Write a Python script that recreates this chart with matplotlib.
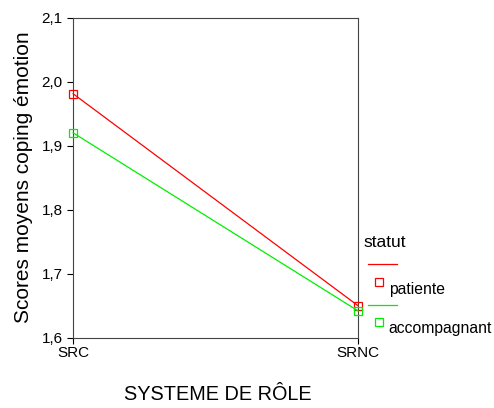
import matplotlib
matplotlib.use('Agg')
import matplotlib.pyplot as plt
from matplotlib.lines import Line2D
from matplotlib.ticker import FuncFormatter

plt.rcParams['font.family'] = ['Liberation Sans', 'DejaVu Sans']

# données
categories = ['SRC', 'SRNC']
patiente = [1.981, 1.650]
accompagnant = [1.920, 1.642]
yticks = [1.6, 1.7, 1.8, 1.9, 2.0, 2.1]

fig = plt.figure(figsize=(4.94, 4.08), dpi=100)
ax = fig.add_axes([0.148, 0.172, 0.577, 0.785])

x = range(len(categories))
ax.plot(x, patiente, color='#ff0000', lw=0.9, marker='s', ms=6,
        mfc='none', mec='#ff0000', mew=0.9, clip_on=False, zorder=3)
ax.plot(x, accompagnant, color='#00ee00', lw=0.9, marker='s', ms=6,
        mfc='none', mec='#00ee00', mew=0.9, clip_on=False, zorder=3)

ax.set_xlim(0, 1)
ax.set_ylim(1.6, 2.1)
ax.set_xticks(list(x))
ax.set_xticklabels(categories)
ax.set_yticks(yticks)
ax.yaxis.set_major_formatter(FuncFormatter(lambda v, p: ('%.1f' % v).replace('.', ',')))
ax.tick_params(labelsize=11, length=4, width=0.8, colors='black')
ax.tick_params(axis='x', pad=2)
for s in ax.spines.values():
    s.set_linewidth(0.8)
    s.set_color('#444444')

ax.set_ylabel('Scores moyens coping émotion', fontsize=15, labelpad=6)
fig.text(0.44, 0.01, 'SYSTEME DE RÔLE', fontsize=14.3, ha='center', va='bottom')

# légende à la manière SPSS
fig.text(0.735, 0.405, 'statut', fontsize=12.5, va='center')
fig.add_artist(Line2D([0.745, 0.803], [0.352, 0.352], color='#ff0000', lw=0.9))
fig.add_artist(Line2D([0.767], [0.308], marker='s', ms=6, mfc='none',
                      mec='#ff0000', mew=0.9, transform=fig.transFigure))
fig.text(0.787, 0.290, 'patiente', fontsize=11.3, va='center')
fig.add_artist(Line2D([0.745, 0.803], [0.253, 0.253], color='#00ee00', lw=0.9))
fig.add_artist(Line2D([0.767], [0.211], marker='s', ms=6, mfc='none',
                      mec='#00ee00', mew=0.9, transform=fig.transFigure))
fig.text(0.787, 0.194, 'accompagnant', fontsize=11.3, va='center')

fig.savefig('out.png', dpi=100)
